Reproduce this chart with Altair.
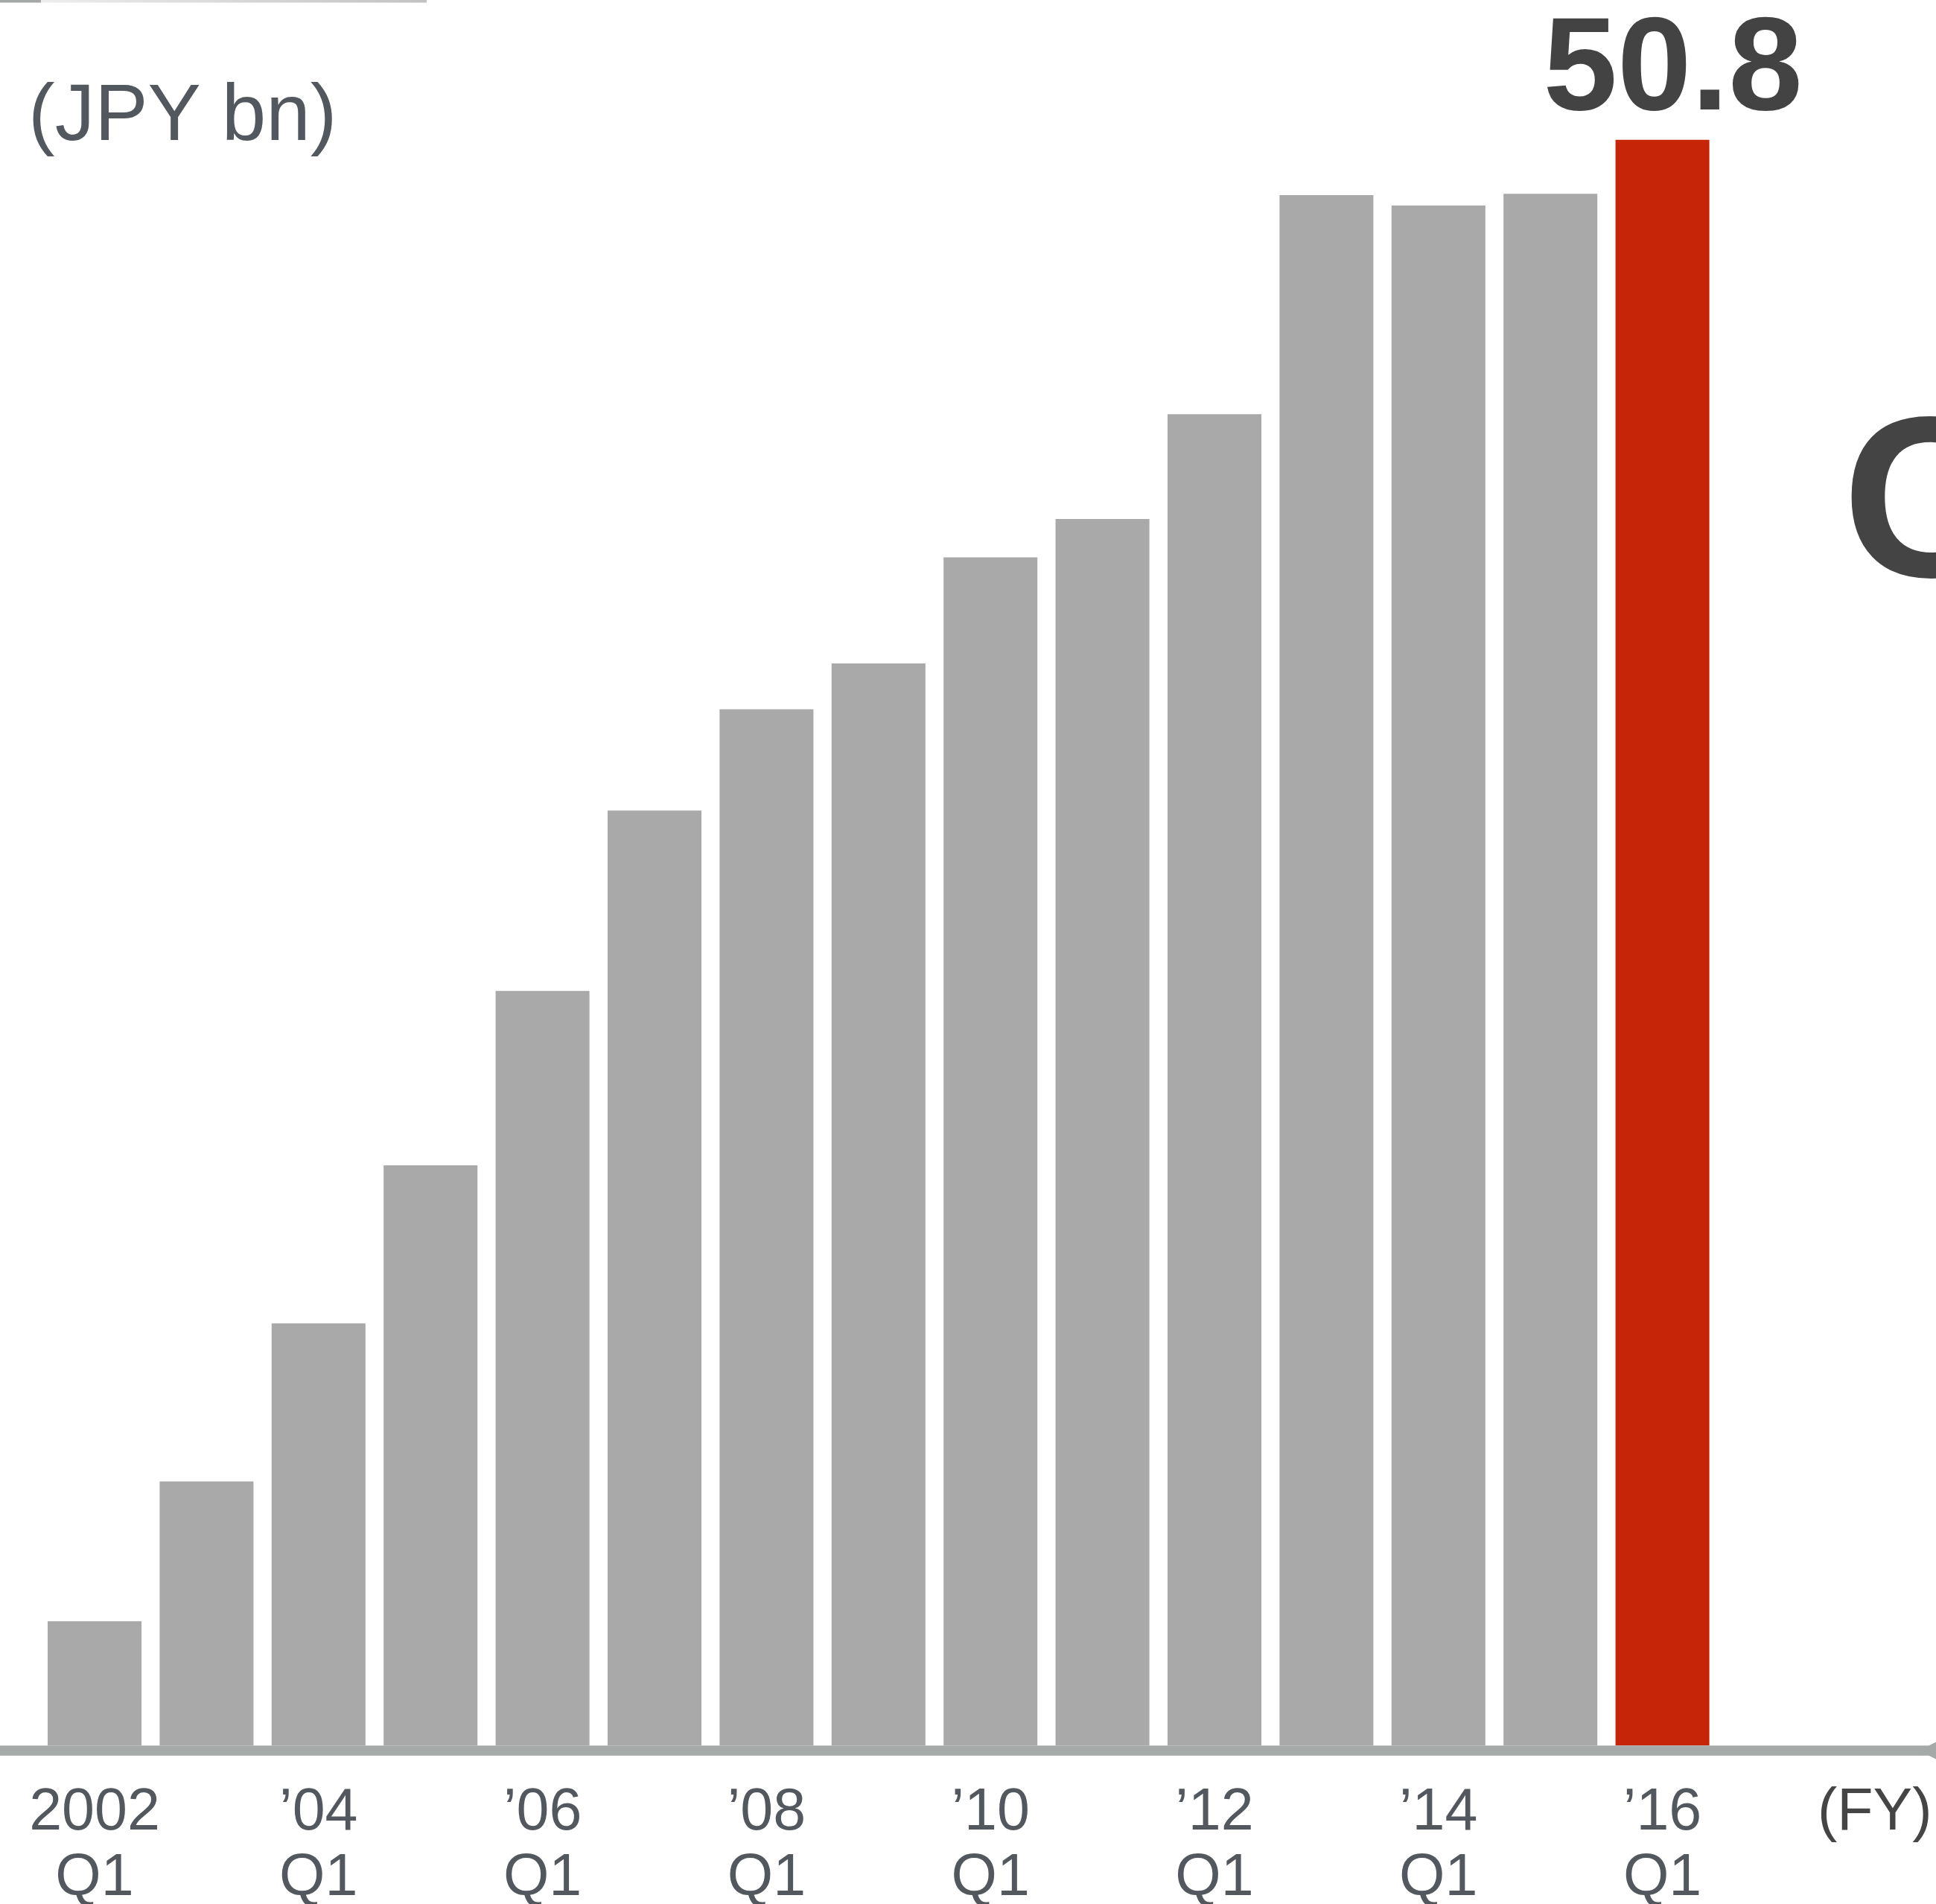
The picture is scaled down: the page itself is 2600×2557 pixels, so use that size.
import altair as alt
import pandas as pd

# ---- data ----
periods = ["2002Q1", "2003Q1", "2004Q1", "2005Q1", "2006Q1", "2007Q1", "2008Q1",
           "2009Q1", "2010Q1", "2011Q1", "2012Q1", "2013Q1", "2014Q1", "2015Q1", "2016Q1"]
values = [3.93, 8.35, 13.35, 18.35, 23.87, 29.58, 32.78, 34.23, 37.59, 38.80,
          42.12, 49.05, 48.72, 49.09, 50.8]
kinds = ["past"] * 14 + ["current"]

label_periods = ["2002Q1", "2004Q1", "2006Q1", "2008Q1", "2010Q1", "2012Q1", "2014Q1", "2016Q1"]
label_years = ["2002", "\u201904", "\u201906", "\u201908", "\u201910", "\u201912", "\u201914", "\u201916"]
label_quarters = ["Q1"] * 8

unit_text = "(JPY bn)"
fy_text = "(FY)"
side_text = "C"

df = pd.DataFrame({"period": periods, "value": values, "kind": kinds})
df_lab = pd.DataFrame({"period": label_periods, "year": label_years, "q": label_quarters})
df_last = df.tail(1)

FONT = "Liberation Sans"
x_scale = alt.Scale(domain=periods, range=[64, 2295.6], paddingInner=0.162, paddingOuter=0)
y_scale = alt.Scale(domain=[0, 50.8], range=[2344, 187.7])

bars = alt.Chart(df).mark_bar().encode(
    x=alt.X("period:N", scale=x_scale, axis=None, sort=periods),
    y=alt.Y("value:Q", scale=y_scale, axis=None),
    color=alt.Color("kind:N", scale=alt.Scale(domain=["past", "current"],
                                              range=["#a9a9a9", "#c62507"]), legend=None),
)

value_label = alt.Chart(df_last).mark_text(
    font=FONT, fontSize=179, fontWeight="bold", color="#434343",
    align="center", baseline="alphabetic", dx=14, dy=-41,
).encode(
    x=alt.X("period:N", scale=x_scale, axis=None, sort=periods),
    y=alt.Y("value:Q", scale=y_scale, axis=None),
    text=alt.Text("value:Q", format=".1f"),
)

year_labels = alt.Chart(df_lab).mark_text(
    font=FONT, fontSize=79, color="#53585e", align="center", baseline="alphabetic",
).encode(
    x=alt.X("period:N", scale=x_scale, axis=None, sort=periods),
    y=alt.value(2457),
    text="year:N",
)

q_labels = alt.Chart(df_lab).mark_text(
    font=FONT, fontSize=79, color="#53585e", align="center", baseline="alphabetic",
).encode(
    x=alt.X("period:N", scale=x_scale, axis=None, sort=periods),
    y=alt.value(2545),
    text="q:N",
)

dummy = pd.DataFrame({"t": [0]})

axis_line = alt.Chart(dummy).mark_rect(color="#a5a9a8").encode(
    x=alt.value(0), x2=alt.value(2590), y=alt.value(2344.3), y2=alt.value(2357.7)
)
arrow = alt.Chart(dummy).mark_point(
    shape="M-1,0L1,-1L1,1Z", filled=True, color="#a5a9a8", opacity=1, size=6400, strokeWidth=0
).encode(x=alt.value(2617), y=alt.value(2351))

top_dark = alt.Chart(dummy).mark_rect(color="#a4a8a8").encode(
    x=alt.value(0), x2=alt.value(55), y=alt.value(0), y2=alt.value(3.5)
)
top_light = alt.Chart(dummy).mark_rect(
    color=alt.LinearGradient(
        gradient="linear",
        stops=[alt.GradientStop(color="#ededed", offset=0),
               alt.GradientStop(color="#c2c2c2", offset=1)],
        x1=0, x2=1, y1=0, y2=0)
).encode(x=alt.value(55), x2=alt.value(573), y=alt.value(0), y2=alt.value(3.5))

unit_label = alt.Chart(pd.DataFrame({"t": [unit_text]})).mark_text(
    font=FONT, fontSize=107, color="#53585e", align="left", baseline="alphabetic"
).encode(x=alt.value(38), y=alt.value(188), text="t:N")

fy_label = alt.Chart(pd.DataFrame({"t": [fy_text]})).mark_text(
    font=FONT, fontSize=79, color="#454545", align="left", baseline="alphabetic"
).encode(x=alt.value(2441), y=alt.value(2457), text="t:N")

side_label = alt.Chart(pd.DataFrame({"t": [side_text]})).mark_text(
    font=FONT, fontSize=308, fontWeight="bold", color="#444444", align="left", baseline="alphabetic"
).encode(x=alt.value(2474), y=alt.value(774), text="t:N")

chart = alt.layer(
    bars, axis_line, arrow, top_dark, top_light, value_label, year_labels, q_labels,
    unit_label, fy_label, side_label,
).properties(
    width=2600, height=2557,
    autosize=alt.AutoSizeParams(type="none"),
    padding=0,
    background="white",
).configure_view(stroke=None, clip=False)

chart.save("out.html", embed_options={"renderer": "svg", "actions": False})
